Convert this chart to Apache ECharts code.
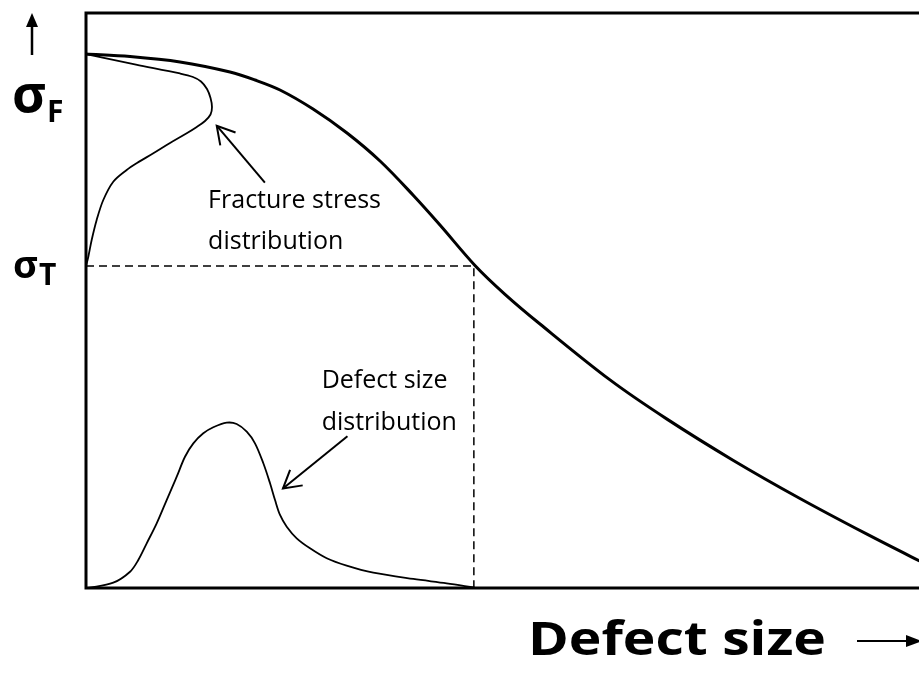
<!DOCTYPE html>
<html>
<head>
<meta charset="utf-8">
<script src="https://cdn.jsdelivr.net/npm/echarts@6/dist/echarts.min.js"></script>
<style>
  html, body { margin: 0; padding: 0; background: #fff; }
  #chart { width: 919px; height: 673px; }
</style>
</head>
<body>
<div id="chart"></div>
<script>
// Failure curve: fracture strength against defect size (normalised units, 0–100)
const failureX = [0, 5.12, 10.93, 16.74, 19.65, 22.56, 26.40, 30.35, 34.19, 38.02, 41.16, 45.23, 48.72, 52.79, 60.93, 67.56, 75.23, 83.02, 90.81, 96.86, 100];
const failureY = [92.87, 92.43, 91.48, 89.74, 88.35, 86.61, 83.30, 79.13, 74.26, 68.35, 63.13, 56.10, 51.08, 45.91, 36.19, 29.37, 22.23, 15.57, 9.36, 4.75, 2.42];

// Fracture stress distribution, drawn sideways against the stress axis
const fractureX = [0, 5.81, 10.93, 12.44, 13.37, 14.07, 14.48, 14.65, 14.48, 13.84, 12.79, 11.71, 9.77, 7.83, 5.93, 4.73, 3.17, 2.01, 1.24, 0.66, 0.27, 0];
const fractureY = [92.87, 91.04, 89.48, 88.87, 88.09, 86.78, 85.22, 83.65, 82.35, 81.22, 80.09, 79.08, 77.39, 75.60, 73.91, 72.70, 70.66, 67.48, 64.00, 60.52, 57.62, 56];

// Defect size distribution
const defectX = [0.2, 3.17, 5.12, 6.08, 7.06, 8.22, 9.38, 10.55, 11.51, 12.48, 13.64, 14.80, 16.36, 17.52, 18.69, 19.65, 20.62, 21.40, 21.98, 22.56, 23.34, 24.50, 26.05, 27.99, 30.31, 33.41, 38.06, 41.94, 45.1];
const defectY = [0, 0.92, 2.83, 4.87, 7.77, 11.25, 15.30, 19.36, 22.83, 25.16, 26.90, 27.95, 28.75, 28.52, 27.18, 25.16, 21.69, 18.21, 15.30, 12.70, 10.66, 8.64, 6.90, 5.17, 3.88, 2.66, 1.57, 0.82, 0.1];

// Stress levels marked on the vertical axis
const stressSubscripts = ['F', 'T'];
const stressLevels = [84, 56];

// Critical defect size where the failure curve reaches σT
const criticalSize = 45.1;

// Annotation text and arrows (data units)
const noteTexts = ['Fracture stress', 'distribution', 'Defect size', 'distribution'];
const noteX = [14.2, 14.2, 27.4, 27.4];
const noteY = [67.4, 60.2, 36.0, 28.8];
const arrowTails = [[20.8, 70.5], [30.4, 26.4]];
const arrowHeads = [[15.2, 80.4], [22.9, 17.3]];

const zip = (xs, ys) => xs.map((x, i) => [x, ys[i]]);

// Glyph styling for the σ labels (σ size, subscript size, offsets from the axis point)
const sigmaStyle = {
  F: { big: 52, small: 30, sx: -74, sy: -8, tx: -39, ty: 8 },
  T: { big: 38, small: 30, sx: -73, sy: 1, tx: -47, ty: 10 }
};

const FONT = "'Open Sans', Lato, sans-serif";

// Smooth curve through every point of a series: chord-length Hermite spline
// converted to cubic Béziers, positioned with the cartesian axes via api.coord.
function smoothCurve(xs, ys, width) {
  return function (params, api) {
    if (params.dataIndex !== 0) return null;
    const p = xs.map((x, i) => api.coord([x, ys[i]]));
    const n = p.length;
    const dist = (a, b) => Math.hypot(b[0] - a[0], b[1] - a[1]) || 1e-6;
    const seg = [];
    for (let i = 0; i < n - 1; i++) seg.push(dist(p[i], p[i + 1]));
    // unit-length tangents at each point
    const tan = p.map((pt, i) => {
      const a = p[Math.max(i - 1, 0)], b = p[Math.min(i + 1, n - 1)];
      const l = dist(a, b);
      return [(b[0] - a[0]) / l, (b[1] - a[1]) / l];
    });
    let d = 'M' + p[0][0] + ' ' + p[0][1];
    for (let i = 0; i < n - 1; i++) {
      const k = seg[i] / 3;
      const c1 = [p[i][0] + tan[i][0] * k, p[i][1] + tan[i][1] * k];
      const c2 = [p[i + 1][0] - tan[i + 1][0] * k, p[i + 1][1] - tan[i + 1][1] * k];
      d += ' C' + c1[0] + ' ' + c1[1] + ' ' + c2[0] + ' ' + c2[1] + ' ' + p[i + 1][0] + ' ' + p[i + 1][1];
    }
    return {
      type: 'path',
      shape: { pathData: d },
      style: { stroke: '#000', fill: null, lineWidth: width, lineJoin: 'round', lineCap: 'round' }
    };
  };
}

const chart = echarts.init(document.getElementById('chart'), null, { renderer: 'canvas' });

const option = {
  animation: false,
  backgroundColor: '#fff',
  grid: {
    left: 86, top: 13, width: 860, height: 575,
    outerBoundsMode: 'none', containLabel: false,
    show: true, borderColor: '#000', borderWidth: 3, backgroundColor: 'transparent'
  },
  xAxis: {
    type: 'value', min: 0, max: 100,
    axisLine: { show: false }, axisTick: { show: false },
    axisLabel: { show: false }, splitLine: { show: false }
  },
  yAxis: {
    type: 'value', min: 0, max: 100,
    axisLine: { show: false }, axisTick: { show: false },
    axisLabel: { show: false }, splitLine: { show: false }
  },
  series: [
    {
      name: 'Failure curve', type: 'custom', clip: true,
      data: zip(failureX, failureY),
      renderItem: smoothCurve(failureX, failureY, 3), z: 5
    },
    {
      name: 'Fracture stress distribution', type: 'custom', clip: true,
      data: zip(fractureX, fractureY),
      renderItem: smoothCurve(fractureX, fractureY, 1.8), z: 4
    },
    {
      name: 'Defect size distribution', type: 'custom', clip: true,
      data: zip(defectX, defectY),
      renderItem: smoothCurve(defectX, defectY, 1.8), z: 4
    },
    {
      name: 'Threshold', type: 'line', showSymbol: false,
      data: [[0, stressLevels[1]], [criticalSize, stressLevels[1]], [criticalSize, 0]],
      lineStyle: { color: '#000', width: 1.5, type: [8, 5] }, z: 3
    },
    {
      name: 'Arrows', type: 'custom',
      data: arrowTails.map((t, i) => [t[0], t[1], arrowHeads[i][0], arrowHeads[i][1]]),
      renderItem: function (params, api) {
        const tail = api.coord([api.value(0), api.value(1)]);
        const head = api.coord([api.value(2), api.value(3)]);
        const ang = Math.atan2(tail[1] - head[1], tail[0] - head[0]);
        const len = 20, spread = Math.PI / 6;
        const b1 = [head[0] + len * Math.cos(ang + spread), head[1] + len * Math.sin(ang + spread)];
        const b2 = [head[0] + len * Math.cos(ang - spread), head[1] + len * Math.sin(ang - spread)];
        return {
          type: 'group',
          children: [
            { type: 'line', shape: { x1: tail[0], y1: tail[1], x2: head[0], y2: head[1] },
              style: { stroke: '#000', lineWidth: 2 } },
            { type: 'polyline', shape: { points: [b1, head, b2] },
              style: { stroke: '#000', fill: null, lineWidth: 2 } }
          ]
        };
      }, z: 6
    },
    {
      name: 'Notes', type: 'custom',
      data: noteTexts.map((t, i) => [noteX[i], noteY[i], i]),
      renderItem: function (params, api) {
        const p = api.coord([api.value(0), api.value(1)]);
        const idx = api.value(2);
        return {
          type: 'text', x: p[0], y: p[1],
          style: {
            text: noteTexts[idx], font: '25px ' + FONT, fill: '#000',
            align: 'left', verticalAlign: 'middle'
          }
        };
      }, z: 6
    },
    {
      name: 'Stress labels', type: 'custom', clip: false,
      data: stressLevels.map((v, i) => [0, v, i]),
      renderItem: function (params, api) {
        const p = api.coord([api.value(0), api.value(1)]);
        const sub = stressSubscripts[api.value(2)];
        const s = sigmaStyle[sub];
        return {
          type: 'group',
          children: [
            { type: 'text', x: p[0] + s.sx, y: p[1] + s.sy,
              style: { text: 'σ', font: 'bold ' + s.big + 'px ' + FONT, fill: '#000', align: 'left', verticalAlign: 'middle' } },
            { type: 'text', x: p[0] + s.tx, y: p[1] + s.ty,
              style: { text: sub, font: 'bold ' + s.small + 'px ' + FONT, fill: '#000', align: 'left', verticalAlign: 'middle' } }
          ]
        };
      }, z: 6
    }
  ],
  graphic: [
    // vertical stress-axis arrow
    { type: 'line', shape: { x1: 32, y1: 55, x2: 32, y2: 24 }, style: { stroke: '#000', lineWidth: 2.5 } },
    { type: 'polygon', shape: { points: [[32, 13], [26, 27], [38, 27]] }, style: { fill: '#000' } },
    // horizontal axis title and arrow
    { type: 'text', x: 528, y: 642, scaleX: 1.2,
      style: { text: 'Defect size', font: 'bold 46px ' + FONT, fill: '#000',
               align: 'left', verticalAlign: 'middle', textAlign: 'left', textVerticalAlign: 'middle' } },
    { type: 'line', shape: { x1: 857, y1: 641, x2: 910, y2: 641 }, style: { stroke: '#000', lineWidth: 2 } },
    { type: 'polygon', shape: { points: [[922, 641], [906, 635], [906, 647]] }, style: { fill: '#000' } }
  ]
};

chart.setOption(option);
</script>
</body>
</html>
